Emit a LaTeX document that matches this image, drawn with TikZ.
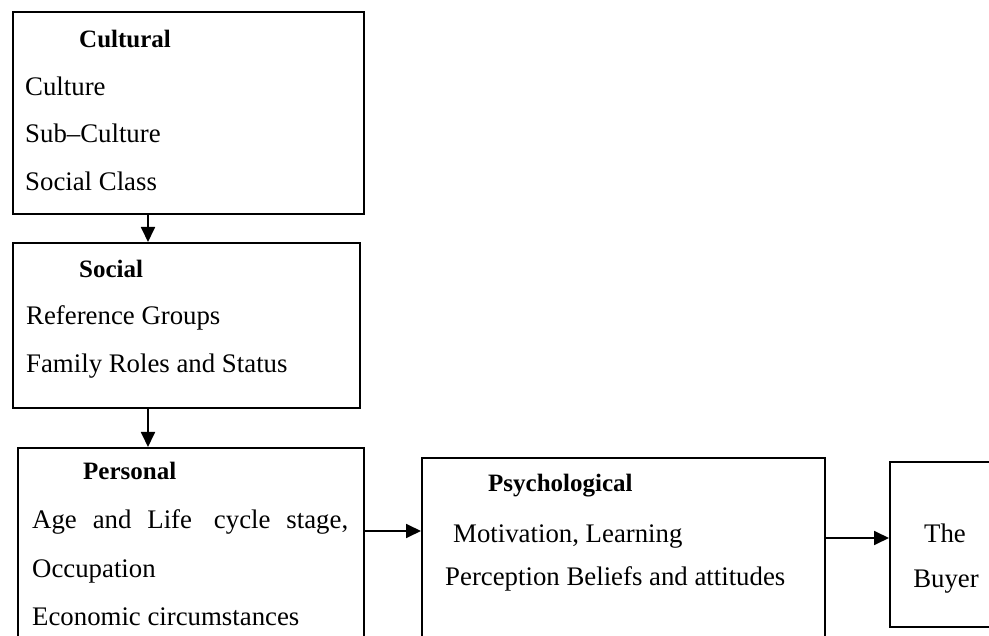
\documentclass[tikz,border=0pt]{standalone}
\usepackage{fontspec}
\setmainfont{Liberation Serif}
\usetikzlibrary{arrows.meta}
\begin{document}
\begin{tikzpicture}[x=1pt,y=-1pt,
  box/.style={draw=black, line width=1.8pt, rectangle, inner sep=0pt, anchor=north west},
  head/.style={inner sep=0pt, anchor=base west, font=\fontsize{25}{30}\selectfont\bfseries},
  item/.style={inner sep=0pt, anchor=base west, font=\fontsize{26.8}{30}\selectfont},
  citem/.style={inner sep=0pt, anchor=base, font=\fontsize{26.8}{30}\selectfont},
  arr/.style={line width=1.8pt, -{Triangle[length=15pt,width=14pt]}}]
\useasboundingbox (0,0) rectangle (989,636);
\fill[white] (0,0) rectangle (989,636);
\clip (0,0) rectangle (989,636);
% boxes
\node[box, minimum width=351pt, minimum height=202pt] (cult) at (12,11) {};
\node[box, minimum width=347pt, minimum height=165pt] (soc) at (12,242) {};
\node[box, minimum width=346pt, minimum height=260pt] (pers) at (17,447) {};
\node[box, minimum width=403pt, minimum height=260pt] (psych) at (421,457) {};
\node[box, minimum width=130pt, minimum height=165pt] (buyer) at (889,461) {};
% texts
\node[head] (t1) at (79,47.5) {Cultural};
\node[item] (t2) at (25,95.7) {Culture};
\node[item] (t3) at (25,143) {Sub--Culture};
\node[item] (t4) at (25,191) {Social Class};
\node[head] (t5) at (79,278) {Social};
\node[item] (t6) at (26,325) {Reference Groups};
\node[item] (t7) at (26,373) {Family Roles and Status};
\node[head] (t8) at (83,479) {Personal};
\node[item] (t9) at (32,529) {\makebox[316pt][s]{Age and Life\hspace{6pt} cycle stage,}};
\node[item] (t10) at (32,577) {Occupation};
\node[item] (t11) at (32,625) {Economic circumstances};
\node[head] (t12) at (488,492) {Psychological};
\node[item] (t13) at (453,542) {Motivation, Learning};
\node[item] (t14) at (445,585) {Perception Beliefs and attitudes};
\node[citem] (t15) at (945,542) {The};
\node[citem] (t16) at (946,587) {Buyer};
% connectors
\coordinate (ax) at (148,0);
\coordinate (ay1) at (0,531);
\coordinate (ay2) at (0,538);
\draw[arr] (cult.south -| ax) -- (soc.north -| ax);
\draw[arr] (soc.south -| ax) -- (pers.north -| ax);
\draw[arr] (pers.east |- ay1) -- (psych.west |- ay1);
\draw[arr] (psych.east |- ay2) -- (buyer.west |- ay2);
\end{tikzpicture}
\end{document}
